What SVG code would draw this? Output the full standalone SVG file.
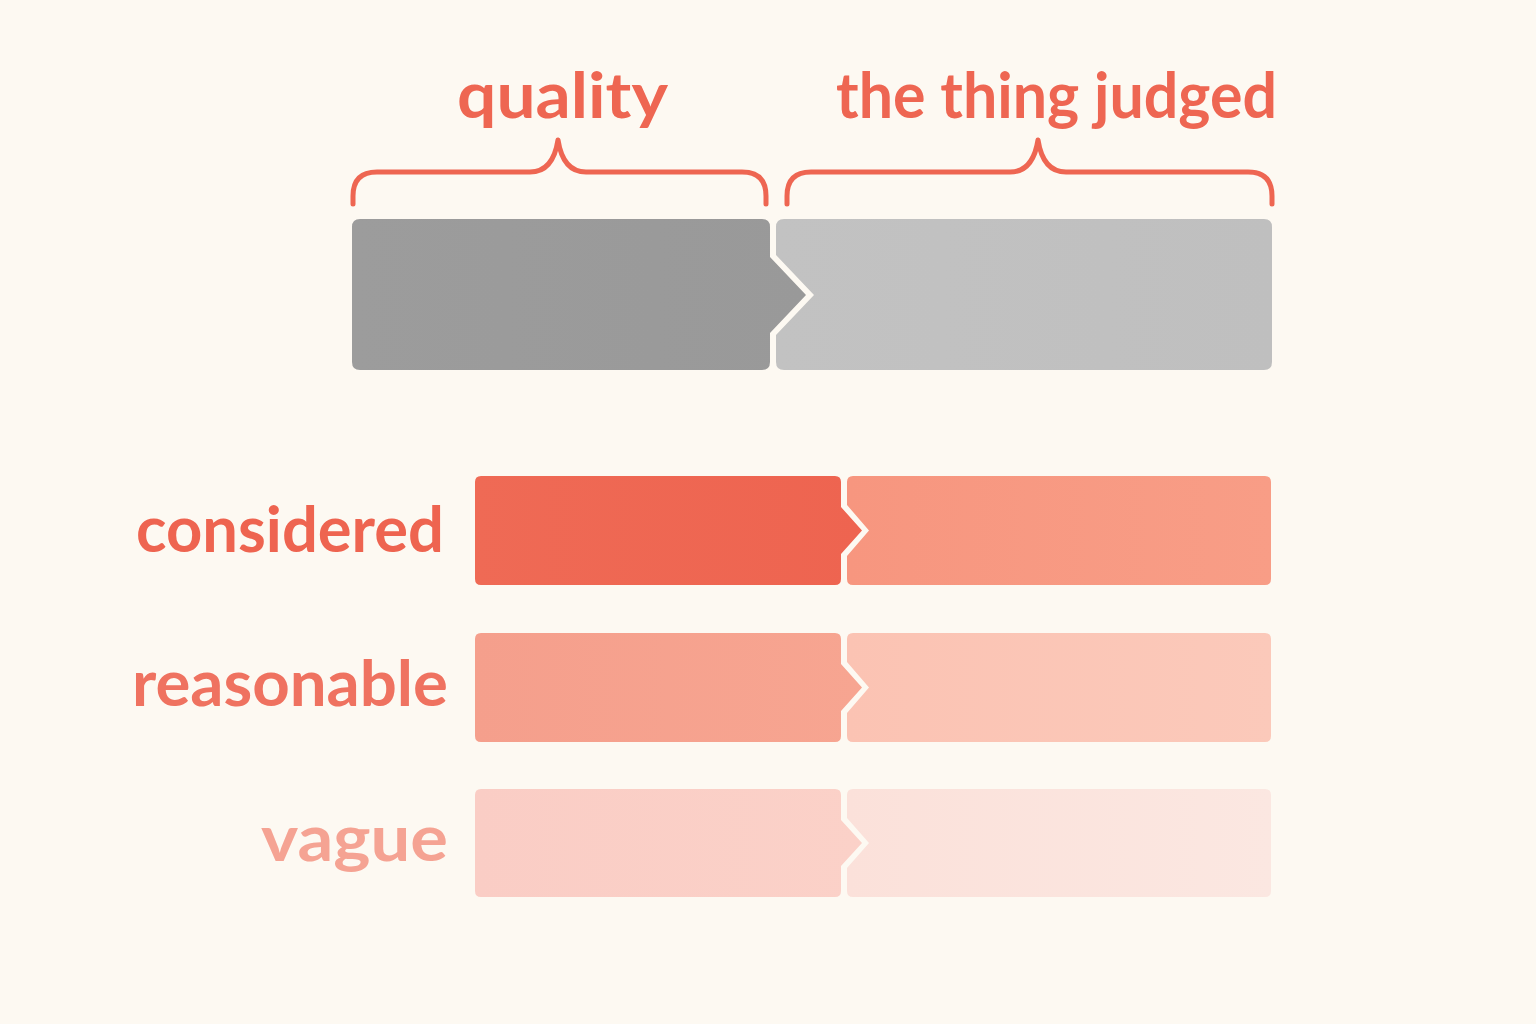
<svg xmlns="http://www.w3.org/2000/svg" width="1536" height="1024" viewBox="0 0 1536 1024">
<defs>
<style>
.lbl{font-family:Lato,"Noto Sans","Liberation Sans",sans-serif;font-weight:700;font-size:64px}
.brace{fill:none;stroke:#EE6652;stroke-width:5;stroke-linecap:round;stroke-linejoin:round}
</style>
<linearGradient id="gL" x1="0" y1="0" x2="1" y2="0"><stop offset="0" stop-color="#9C9C9C"/><stop offset="1" stop-color="#999999"/></linearGradient>
<linearGradient id="gR" x1="0" y1="0" x2="1" y2="0"><stop offset="0" stop-color="#C2C2C2"/><stop offset="1" stop-color="#BFBFBF"/></linearGradient>
<linearGradient id="c1L" x1="0" y1="0" x2="1" y2="0"><stop offset="0" stop-color="#EF6A55"/><stop offset="1" stop-color="#EE6450"/></linearGradient>
<linearGradient id="c1R" x1="0" y1="0" x2="1" y2="0"><stop offset="0" stop-color="#F7967F"/><stop offset="1" stop-color="#F89D86"/></linearGradient>
<linearGradient id="c2L" x1="0" y1="0" x2="1" y2="0"><stop offset="0" stop-color="#F59F8C"/><stop offset="1" stop-color="#F7A591"/></linearGradient>
<linearGradient id="c2R" x1="0" y1="0" x2="1" y2="0"><stop offset="0" stop-color="#FBC3B3"/><stop offset="1" stop-color="#FBC9BA"/></linearGradient>
<linearGradient id="c3L" x1="0" y1="0" x2="1" y2="0"><stop offset="0" stop-color="#FACDC5"/><stop offset="1" stop-color="#FBD1C8"/></linearGradient>
<linearGradient id="c3R" x1="0" y1="0" x2="1" y2="0"><stop offset="0" stop-color="#FBE1DA"/><stop offset="1" stop-color="#FBE7E1"/></linearGradient>
</defs>
<rect width="1536" height="1024" fill="#FDF9F2"/>

<g id="title-quality">
<text class="lbl" x="457" y="118" fill="#EE6652" textLength="211" lengthAdjust="spacingAndGlyphs">quality</text>
</g>
<g id="title-thing">
<text class="lbl" x="836" y="118" fill="#EE6652" textLength="441" lengthAdjust="spacingAndGlyphs">the thing judged</text>
</g>

<g id="connectors">
<path class="brace" d="M353,204 V196 Q353,172 377,172 H530 Q553,172 558,140 Q563,172 586,172 H742 Q766,172 766,196 V204"/>
<path class="brace" d="M787,204 V196 Q787,172 811,172 H1010 Q1033,172 1038,140 Q1043,172 1066,172 H1248 Q1272,172 1272,196 V204"/>
</g>

<g id="top-quality">
<path fill="url(#gL)" d="M360,219 H762 Q770,219 770,227 V257 L806,295 L770,333 V362 Q770,370 762,370 H360 Q352,370 352,362 V227 Q352,219 360,219 Z"/>
</g>
<g id="top-thing">
<path fill="url(#gR)" d="M784,219 H1264 Q1272,219 1272,227 V362 Q1272,370 1264,370 H784 Q776,370 776,362 V335 L814,295 L776,255 V227 Q776,219 784,219 Z"/>
</g>

<g id="row-considered">
<text class="lbl" x="136" y="552" fill="#EE6450" textLength="308" lengthAdjust="spacingAndGlyphs">considered</text>
<path fill="url(#c1L)" d="M481,476 H835 Q841,476 841,482 V507 L862,530.5 L841,554 V579 Q841,585 835,585 H481 Q475,585 475,579 V482 Q475,476 481,476 Z"/>
<path fill="url(#c1R)" d="M853,476 H1265 Q1271,476 1271,482 V579 Q1271,585 1265,585 H853 Q847,585 847,579 V556 L869,530.5 L847,505 V482 Q847,476 853,476 Z"/>
</g>

<g id="row-reasonable">
<text class="lbl" x="132" y="706" fill="#EF7260" textLength="316" lengthAdjust="spacingAndGlyphs">reasonable</text>
<path fill="url(#c2L)" d="M481,633 H835 Q841,633 841,639 V664 L862,687.5 L841,711 V736 Q841,742 835,742 H481 Q475,742 475,736 V639 Q475,633 481,633 Z"/>
<path fill="url(#c2R)" d="M853,633 H1265 Q1271,633 1271,639 V736 Q1271,742 1265,742 H853 Q847,742 847,736 V713 L869,687.5 L847,662 V639 Q847,633 853,633 Z"/>
</g>

<g id="row-vague">
<text class="lbl" x="261" y="861" fill="#F5A393" textLength="187" lengthAdjust="spacingAndGlyphs">vague</text>
<path fill="url(#c3L)" d="M481,789 H835 Q841,789 841,795 V820 L862,843 L841,866 V891 Q841,897 835,897 H481 Q475,897 475,891 V795 Q475,789 481,789 Z"/>
<path fill="url(#c3R)" d="M853,789 H1265 Q1271,789 1271,795 V891 Q1271,897 1265,897 H853 Q847,897 847,891 V868 L869,843 L847,818 V795 Q847,789 853,789 Z"/>
</g>
</svg>
